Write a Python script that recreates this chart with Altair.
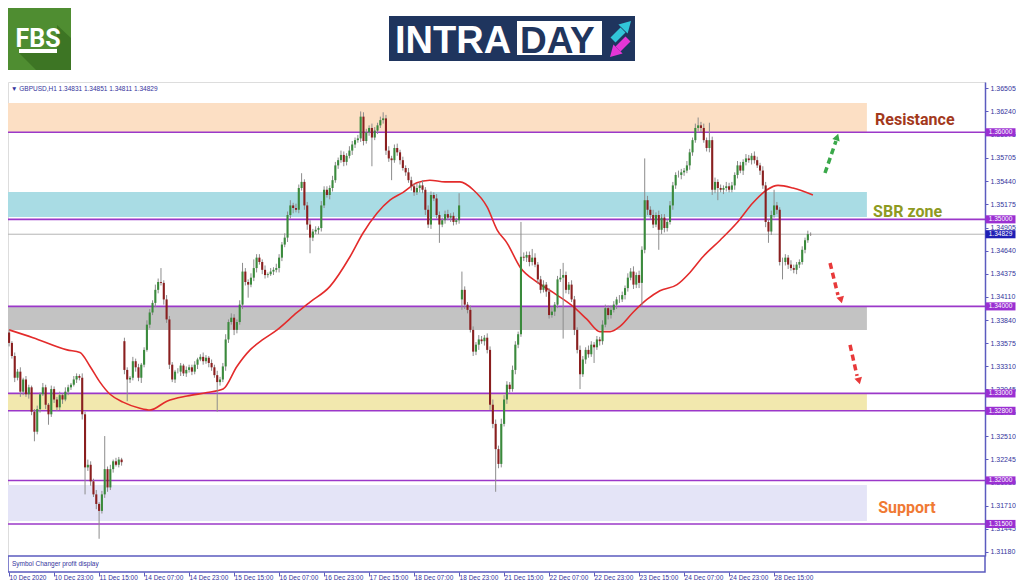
import altair as alt
import pandas as pd

# ---------------- data (GBPUSD H1) ----------------
# closes per trading day (bar index 0 = 10 Dec 07:00)
c_thu10 = [1.3358, 1.3343, 1.3318, 1.3325, 1.3302, 1.3316, 1.3299, 1.3307, 1.3279, 1.3256, 1.3282, 1.3299, 1.3307, 1.3287, 1.3276, 1.3305, 1.3293]
c_fri11 = [1.3284, 1.3298, 1.3293, 1.3302, 1.3307, 1.3310, 1.3316, 1.3320, 1.3318, 1.3276, 1.3215, 1.3218, 1.3199, 1.3184, 1.3173, 1.3165, 1.3184, 1.3213, 1.3192, 1.3213, 1.3222, 1.3218, 1.3224, 1.3221]
c_mon14 = [1.3327, 1.3316, 1.3318, 1.3337, 1.3330, 1.3318, 1.3333, 1.3350, 1.3379, 1.3393, 1.3404, 1.3419, 1.3428, 1.3427, 1.3408, 1.3385, 1.3333, 1.3316, 1.3325, 1.3325, 1.3332, 1.3323, 1.3327, 1.3330]
c_tue15 = [1.3325, 1.3333, 1.3339, 1.3342, 1.3337, 1.3341, 1.3335, 1.3330, 1.3321, 1.3313, 1.3316, 1.3331, 1.3362, 1.3382, 1.3387, 1.3373, 1.3382, 1.3402, 1.3440, 1.3428, 1.3425, 1.3433, 1.3444, 1.3456]
c_wed16 = [1.3451, 1.3442, 1.3436, 1.3437, 1.3440, 1.3442, 1.3444, 1.3456, 1.3471, 1.3479, 1.3505, 1.3516, 1.3513, 1.3511, 1.3536, 1.3543, 1.3516, 1.3494, 1.3479, 1.3486, 1.3488, 1.3490, 1.3516, 1.3534]
c_thu17 = [1.3528, 1.3536, 1.3545, 1.3562, 1.3568, 1.3574, 1.3566, 1.3573, 1.3579, 1.3586, 1.3591, 1.3593, 1.3618, 1.3590, 1.3600, 1.3605, 1.3594, 1.3602, 1.3608, 1.3614, 1.3616, 1.3579, 1.3570, 1.3568]
c_fri18 = [1.3582, 1.3577, 1.3568, 1.3559, 1.3554, 1.3545, 1.3538, 1.3531, 1.3536, 1.3539, 1.3534, 1.3511, 1.3494, 1.3528, 1.3524, 1.3505, 1.3494, 1.3499, 1.3506, 1.3502, 1.3504, 1.3497, 1.3499, 1.3516]
c_mon21 = [1.3419, 1.3402, 1.3396, 1.3373, 1.3348, 1.3356, 1.3362, 1.3360, 1.3364, 1.3350, 1.3287, 1.3265, 1.3236, 1.3219, 1.3265, 1.3293, 1.3310, 1.3305, 1.3327, 1.3356, 1.3368, 1.3457, 1.3456, 1.3459]
c_tue22 = [1.3451, 1.3456, 1.3448, 1.3431, 1.3419, 1.3425, 1.3417, 1.3390, 1.3394, 1.3402, 1.3431, 1.3433, 1.3436, 1.3419, 1.3425, 1.3408, 1.3373, 1.3350, 1.3322, 1.3339, 1.3350, 1.3345, 1.3356, 1.3353]
c_wed23 = [1.3362, 1.3360, 1.3379, 1.3398, 1.3390, 1.3396, 1.3402, 1.3408, 1.3408, 1.3413, 1.3421, 1.3433, 1.3440, 1.3425, 1.3436, 1.3427, 1.3465, 1.3522, 1.3511, 1.3505, 1.3494, 1.3505, 1.3488, 1.3502]
c_thu24 = [1.3490, 1.3497, 1.3516, 1.3539, 1.3551, 1.3551, 1.3554, 1.3556, 1.3562, 1.3577, 1.3591, 1.3605, 1.3608, 1.3605, 1.3591, 1.3582, 1.3591, 1.3534, 1.3543, 1.3536, 1.3534, 1.3536, 1.3538, 1.3534]
c_mon28 = [1.3539, 1.3551, 1.3562, 1.3556, 1.3566, 1.3570, 1.3568, 1.3573, 1.3568, 1.3562, 1.3556, 1.3539, 1.3497, 1.3486, 1.3505, 1.3516, 1.3511, 1.3451, 1.3451, 1.3456, 1.3448, 1.3444, 1.3442, 1.3448]
c_tue29 = [1.3451, 1.3465, 1.3476, 1.3483, 1.34829]

# upper / lower wick lengths (pips beyond the body)
wu_days = [
    [3, 2, 4, 3, 5, 2, 4, 3, 2, 3, 4, 2, 5, 3, 2, 4, 3],
    [3, 4, 2, 5, 3, 2, 4, 3, 2, 5, 3, 6, 4, 3, 5, 2, 4, 38, 3, 5, 2, 4, 3, 2],
    [4, 3, 2, 5, 3, 4, 2, 3, 5, 4, 3, 6, 4, 16, 3, 5, 4, 3, 2, 4, 3, 2, 4, 3],
    [3, 4, 2, 3, 5, 3, 2, 4, 3, 5, 3, 4, 6, 3, 5, 4, 3, 5, 10, 4, 3, 5, 10, 4],
    [4, 3, 5, 2, 4, 3, 5, 4, 3, 5, 4, 6, 3, 5, 4, 10, 3, 4, 5, 3, 4, 2, 5, 4],
    [4, 3, 5, 4, 3, 5, 4, 3, 5, 4, 3, 4, 6, 5, 4, 3, 5, 4, 3, 4, 7, 4, 5, 3],
    [4, 5, 3, 4, 3, 5, 4, 3, 5, 4, 6, 3, 5, 4, 3, 5, 4, 3, 4, 5, 3, 4, 3, 14],
    [21, 4, 3, 5, 4, 3, 5, 4, 3, 5, 4, 6, 5, 4, 6, 5, 4, 3, 5, 4, 3, 40, 5, 4],
    [4, 10, 5, 3, 4, 5, 3, 4, 5, 3, 4, 10, 14, 4, 3, 5, 4, 3, 5, 4, 3, 5, 4, 3],
    [4, 3, 5, 4, 3, 5, 4, 3, 5, 4, 3, 5, 4, 6, 3, 5, 4, 48, 5, 4, 6, 3, 5, 4],
    [4, 3, 5, 4, 3, 5, 4, 3, 5, 4, 3, 5, 9, 4, 5, 3, 20, 4, 5, 3, 4, 3, 5, 4],
    [4, 3, 5, 4, 3, 5, 4, 3, 5, 4, 3, 5, 4, 3, 5, 18, 4, 3, 5, 4, 3, 5, 4, 3],
    [3, 4, 3, 4, 2],
]
wd_days = [
    [4, 3, 5, 3, 6, 4, 3, 5, 4, 11, 3, 4, 2, 5, 12, 3, 4],
    [4, 3, 5, 2, 4, 3, 2, 4, 3, 6, 31, 4, 5, 3, 6, 32, 3, 4, 5, 3, 4, 2, 3, 4],
    [5, 25, 4, 3, 5, 4, 6, 3, 2, 4, 3, 5, 4, 3, 6, 4, 5, 3, 4, 2, 5, 3, 4, 3],
    [4, 3, 5, 2, 4, 3, 5, 4, 3, 34, 4, 3, 5, 4, 3, 6, 4, 3, 5, 4, 15, 3, 4, 5],
    [3, 5, 4, 3, 2, 4, 3, 5, 4, 3, 5, 4, 6, 3, 4, 3, 5, 6, 18, 4, 3, 5, 4, 3],
    [3, 5, 4, 3, 4, 3, 5, 4, 3, 5, 4, 3, 4, 5, 3, 4, 33, 3, 4, 3, 4, 5, 4, 23],
    [3, 4, 5, 3, 4, 3, 5, 4, 3, 5, 4, 6, 4, 5, 3, 4, 21, 3, 4, 3, 5, 4, 3, 4],
    [12, 5, 4, 3, 5, 4, 6, 3, 5, 4, 6, 5, 49, 5, 4, 3, 5, 4, 3, 5, 4, 3, 4, 5],
    [5, 4, 3, 5, 4, 3, 6, 4, 3, 5, 4, 3, 70, 4, 5, 3, 6, 4, 17, 3, 5, 4, 3, 18],
    [3, 5, 4, 3, 5, 4, 3, 5, 4, 3, 5, 4, 3, 5, 4, 6, 27, 4, 6, 5, 4, 3, 23, 5],
    [5, 4, 3, 5, 4, 3, 5, 4, 3, 5, 4, 3, 4, 5, 3, 4, 5, 6, 4, 14, 3, 5, 4, 3],
    [3, 5, 4, 3, 5, 4, 3, 5, 4, 3, 5, 4, 6, 13, 4, 3, 5, 4, 20, 4, 5, 3, 4, 5],
    [4, 3, 4, 3, 2],
]
# opens of the first bar and of the weekend-gap bars
gap_open = {0: 1.3370, 41: 1.3360, 161: 1.3408}

# moving average (red) read as knots: bar index, price
ma_idx = [0, 8.5, 20.6, 25.2, 28.8, 32.3, 35.9, 40.5, 46.5, 50.1, 56.1, 63.3, 70.4, 76.1, 81.0, 85.7, 90.3, 95.3,
          102.4, 107, 114.1, 121.2, 125.8, 130.8, 135.4, 140.1, 145, 149.6, 155, 160.3, 165, 170, 173.5, 177, 181.7,
          187.7, 193.4, 200.5, 205.5, 210.1, 213.7, 217.2, 221.8, 226.8, 231.4, 237.5, 242.1, 246.7, 252.8, 258.8,
          264.5, 269.5, 273.4, 278.7, 285.8]
ma_val = [1.3373, 1.3364, 1.3350, 1.3347, 1.3331, 1.3313, 1.3299, 1.3290, 1.3283, 1.3281, 1.3291, 1.3297, 1.3301,
          1.3305, 1.3331, 1.3350, 1.3362, 1.3373, 1.3393, 1.3405, 1.3423, 1.3457, 1.3484, 1.3507, 1.3522, 1.3531,
          1.3542, 1.3545, 1.3543, 1.3543, 1.3534, 1.3514, 1.3488, 1.3473, 1.3445, 1.3428, 1.3416, 1.3400, 1.3385,
          1.3371, 1.3371, 1.3377, 1.3393, 1.3408, 1.3418, 1.3425, 1.3439, 1.3457, 1.3476, 1.3496, 1.3519, 1.3534,
          1.3539, 1.3536, 1.3528]

# horizontal levels and zones
levels = [1.36, 1.35, 1.34, 1.33, 1.328, 1.32, 1.315]
current_price = 1.34829
zone_names = ["Resistance", "SBR", "Range", "Base", "Support"]
zone_lo = [1.3600, 1.35027, 1.33729, 1.3280, 1.31535]
zone_hi = [1.36337, 1.35314, 1.3400, 1.3300, 1.31948]
zone_end_bar = 305
zone_fill = ["#fcdfc4", "#a9dce4", "#c3c3c3", "#f2e8ae", "#e4e4f7"]

label_text = ["Resistance", "SBR zone", "Support"]
label_bar = [307.9, 307.2, 309.0]
label_price = [1.36141, 1.35084, 1.31684]
label_color = ["#a3391c", "#8e9a22", "#f07a33"]

# dashed arrows: start/end bar and price, head position
arrow_x0 = [290.1, 291.9, 299.0]
arrow_x1 = [294.0, 294.7, 301.5]
arrow_y0 = [1.35532, 1.34498, 1.33557]
arrow_y1 = [1.35900, 1.34131, 1.33201]
head_x = [294.4, 295.8, 302.2]
head_y = [1.35946, 1.34073, 1.33143]
head_angle = [19, 346, 346]
arrow_color = ["#3aa84a", "#e8393a", "#e8393a"]
head_shape = ["triangle-up", "triangle-down", "triangle-down"]

x_labels = ["10 Dec 2020", "10 Dec 23:00", "11 Dec 15:00", "14 Dec 07:00", "14 Dec 23:00", "15 Dec 15:00",
            "16 Dec 07:00", "16 Dec 23:00", "17 Dec 15:00", "18 Dec 07:00", "18 Dec 23:00", "21 Dec 15:00",
            "22 Dec 07:00", "22 Dec 23:00", "23 Dec 15:00", "24 Dec 07:00", "24 Dec 23:00", "28 Dec 15:00"]
y_ticks = [1.36505, 1.36240, 1.35975, 1.35705, 1.35440, 1.35175, 1.34905, 1.34640, 1.34375, 1.34110, 1.33840,
           1.33575, 1.33310, 1.33045, 1.32775, 1.32510, 1.32245, 1.31980, 1.31710, 1.31445, 1.31180]

# ---------------- build tables ----------------
closes = (c_thu10 + c_fri11 + c_mon14 + c_tue15 + c_wed16 + c_thu17 + c_fri18 + c_mon21 + c_tue22 + c_wed23
          + c_thu24 + c_mon28 + c_tue29)
wu = sum(wu_days, [])
wd = sum(wd_days, [])
GREEN, RED = "#3a8a3c", "#8a1f1f"
rows = []
prev = None
for i, c in enumerate(closes):
    o = gap_open.get(i, prev)
    rows.append(dict(i=i, o=o, c=c, h=max(o, c) + wu[i] * 0.0001, l=min(o, c) - wd[i] * 0.0001,
                     col=GREEN if c >= o else RED))
    prev = c
candles = pd.DataFrame(rows)
ma = pd.DataFrame({"i": ma_idx, "p": ma_val})
zones = pd.DataFrame({"name": zone_names, "lo": zone_lo, "hi": zone_hi, "fill": zone_fill,
                      "x0": [-0.39] * len(zone_names), "x1": [zone_end_bar] * len(zone_names)})
lev = pd.DataFrame({"p": levels, "lab": [f"{v:.5f}" for v in levels]})
cur = pd.DataFrame({"p": [current_price], "lab": [f"{current_price:.5f}"]})
labs = pd.DataFrame({"t": label_text, "i": label_bar, "p": label_price, "col": label_color})
arr = pd.DataFrame({"x0": arrow_x0, "x1": arrow_x1, "y0": arrow_y0, "y1": arrow_y1, "col": arrow_color})
heads = pd.DataFrame({"i": head_x, "p": head_y, "ang": head_angle, "col": arrow_color, "shape": head_shape})
one = pd.DataFrame({"k": [0]})

W, H = 977, 474
FRAME = "#5b5bbf"
AXTXT = "#34349c"
PURPLE = "#9b38c9"
SMALL = "Liberation Sans"

xs = alt.Scale(domain=[-0.39, 346.99], nice=False, zero=False)
ys = alt.Scale(domain=[1.31132, 1.36578], nice=False, zero=False)

label_expr = "[" + ",".join(f"' {t}'" for t in x_labels) + "][round(datum.value/16)]"
x_axis = alt.Axis(values=[16 * k for k in range(len(x_labels))], labelExpr=label_expr, orient="bottom",
                  offset=16, domain=False, grid=False, ticks=True, tickSize=4, tickColor=FRAME,
                  labelAlign="left", labelBaseline="top", labelPadding=-2, labelFontSize=6.5,
                  labelFont=SMALL, labelColor=AXTXT, labelOverlap=False, labelFlush=False, title=None, zindex=0)
y_axis = alt.Axis(values=y_ticks, format=".5f", orient="right", grid=False, domainColor=FRAME, domainWidth=1.5,
                  tickColor=FRAME, tickSize=3, labelPadding=2, labelFontSize=7, labelFont=SMALL,
                  labelColor=AXTXT, labelOverlap=False, labelFlush=False, title=None, zindex=0)

X = lambda f: alt.X(f, type="quantitative", scale=xs, axis=x_axis, title=None)
Y = lambda f: alt.Y(f, type="quantitative", scale=ys, axis=y_axis, title=None)

zone_layer = alt.Chart(zones).mark_rect().encode(
    x=X("x0"), x2="x1", y=Y("lo"), y2="hi", color=alt.Color("fill:N", scale=None))
level_layer = alt.Chart(lev).mark_rule(color=PURPLE, strokeWidth=1.6).encode(y=Y("p"))
cur_layer = alt.Chart(cur).mark_rule(color="#b5b5b5", strokeWidth=1).encode(y=Y("p"))
ma_layer = alt.Chart(ma).mark_line(color="#e32b2b", strokeWidth=1.6, interpolate="monotone").encode(x=X("i"), y=Y("p"))
wick_layer = alt.Chart(candles).mark_rule(color="#8c8c8c", strokeWidth=1).encode(x=X("i"), y=Y("l"), y2="h")
body_layer = alt.Chart(candles).mark_rule(strokeWidth=2.1, strokeCap="butt").encode(
    x=X("i"), y=Y("o"), y2="c", color=alt.Color("col:N", scale=None))
text_layer = alt.Chart(labs).mark_text(font="Roboto", fontWeight="bold", fontSize=16, align="left",
                                      baseline="middle").encode(x=X("i"), y=Y("p"), text="t:N",
                                                                color=alt.Color("col:N", scale=None))
arrow_layer = alt.Chart(arr).mark_rule(strokeWidth=3.5, strokeDash=[6, 4]).encode(
    x=X("x0"), x2="x1", y=Y("y0"), y2="y1", color=alt.Color("col:N", scale=None))
head_layer = alt.Chart(heads).mark_point(filled=True, opacity=1, size=60, strokeWidth=0).encode(
    x=X("i"), y=Y("p"), angle=alt.Angle("ang:Q", scale=None), shape=alt.Shape("shape:N", scale=None),
    color=alt.Color("col:N", scale=None))

TAG = "M-1,-0.27L1,-0.27L1,0.27L-1,0.27Z"
tag_layer = alt.Chart(lev).mark_point(shape=TAG, size=900, filled=True, opacity=1, strokeWidth=0,
                                     color="#9a2fd2").encode(x=alt.value(992.5), y=Y("p"))
tag_text = alt.Chart(lev).mark_text(fontSize=6.5, font=SMALL, color="white", align="center",
                                   baseline="middle").encode(x=alt.value(992.5), y=Y("p"), text="lab:N")
cur_tag = alt.Chart(cur).mark_point(shape=TAG, size=900, filled=True, opacity=1, strokeWidth=0,
                                   color="#1f1fb5").encode(x=alt.value(992.5), y=Y("p"))
cur_text = alt.Chart(cur).mark_text(fontSize=6.5, font=SMALL, color="white", align="center",
                                   baseline="middle").encode(x=alt.value(992.5), y=Y("p"), text="lab:N")

header = alt.Chart(one).mark_text(text="\u25bc GBPUSD,H1  1.34831 1.34851 1.34811 1.34829", fontSize=6.5,
                                  font=SMALL, color=AXTXT, align="left", baseline="middle").encode(
    x=alt.value(3), y=alt.value(7))
subpane = alt.Chart(one).mark_rect(fill="white", stroke=FRAME, strokeWidth=1.5).encode(
    x=alt.value(0), x2=alt.value(W), y=alt.value(H), y2=alt.value(H + 16))
subtext = alt.Chart(one).mark_text(text="Symbol Changer profit display", fontSize=6.5, font=SMALL, color=AXTXT,
                                   align="left", baseline="middle").encode(x=alt.value(4), y=alt.value(H + 8))

# logos
fbs_box = alt.Chart(one).mark_rect(color="#4f8d31").encode(
    x=alt.value(0), x2=alt.value(63), y=alt.value(-77), y2=alt.value(-12))
SHADOW = "M0.547,-0.39L0.984,0.016L0.984,1.016L-0.109,1.016L-0.64,0.484L0.547,0.484Z"
fbs_shadow = alt.Chart(one).mark_point(shape=SHADOW, size=4096, filled=True, opacity=1, strokeWidth=0,
                                       color="#3d7524").encode(x=alt.value(31.5), y=alt.value(-44.5))
fbs_text = alt.Chart(one).mark_text(text="FBS", font="Roboto", fontWeight="bold", fontSize=25,
                                    color="white", align="center", baseline="alphabetic").encode(
    x=alt.value(30), y=alt.value(-35))
fbs_bar = alt.Chart(one).mark_rect(color="white").encode(
    x=alt.value(11), x2=alt.value(49), y=alt.value(-33), y2=alt.value(-29))
intra_box = alt.Chart(one).mark_rect(color="#1f355e").encode(
    x=alt.value(381), x2=alt.value(627), y=alt.value(-66), y2=alt.value(-21))
day_box = alt.Chart(one).mark_rect(color="white").encode(
    x=alt.value(509), x2=alt.value(594), y=alt.value(-61), y2=alt.value(-27))
intra_text = alt.Chart(one).mark_text(text="INTRA", font="Liberation Sans", fontWeight="bold", fontSize=38,
                                      color="white", align="left", baseline="alphabetic").encode(
    x=alt.value(387), y=alt.value(-29))
day_text = alt.Chart(one).mark_text(text="DAY", font="Liberation Sans", fontWeight="bold", fontSize=37,
                                    color="#1f355e", align="left", baseline="alphabetic").encode(
    x=alt.value(512), y=alt.value(-29))
cyan_shaft = alt.Chart(one).mark_rule(color="#31c5d8", strokeWidth=7).encode(
    x=alt.value(605), x2=alt.value(615), y=alt.value(-42), y2=alt.value(-52))
cyan_head = alt.Chart(one).mark_point(shape="triangle-up", size=170, filled=True, opacity=1, color="#31c5d8",
                                      angle=45).encode(x=alt.value(619), y=alt.value(-57))
mag_shaft = alt.Chart(one).mark_rule(color="#e536d6", strokeWidth=7).encode(
    x=alt.value(620), x2=alt.value(610), y=alt.value(-43), y2=alt.value(-33))
mag_head = alt.Chart(one).mark_point(shape="triangle-up", size=170, filled=True, opacity=1, color="#e536d6",
                                     angle=225).encode(x=alt.value(606), y=alt.value(-29))

chart = alt.layer(
    zone_layer, level_layer, cur_layer, ma_layer, wick_layer, body_layer, text_layer, arrow_layer, head_layer,
    tag_layer, tag_text, cur_tag, cur_text, header, subpane, subtext,
    fbs_box, fbs_shadow, fbs_text, fbs_bar, intra_box, day_box, intra_text, day_text,
    cyan_shaft, cyan_head, mag_shaft, mag_head,
).properties(
    width=W, height=H, autosize=alt.AutoSizeParams(type="none"),
    padding={"left": 0, "top": 74, "right": 31, "bottom": 30},
).configure_view(stroke=FRAME, strokeWidth=1.5).configure(background="white")

chart.save("out.html", embed_options={"renderer": "svg", "actions": False})
